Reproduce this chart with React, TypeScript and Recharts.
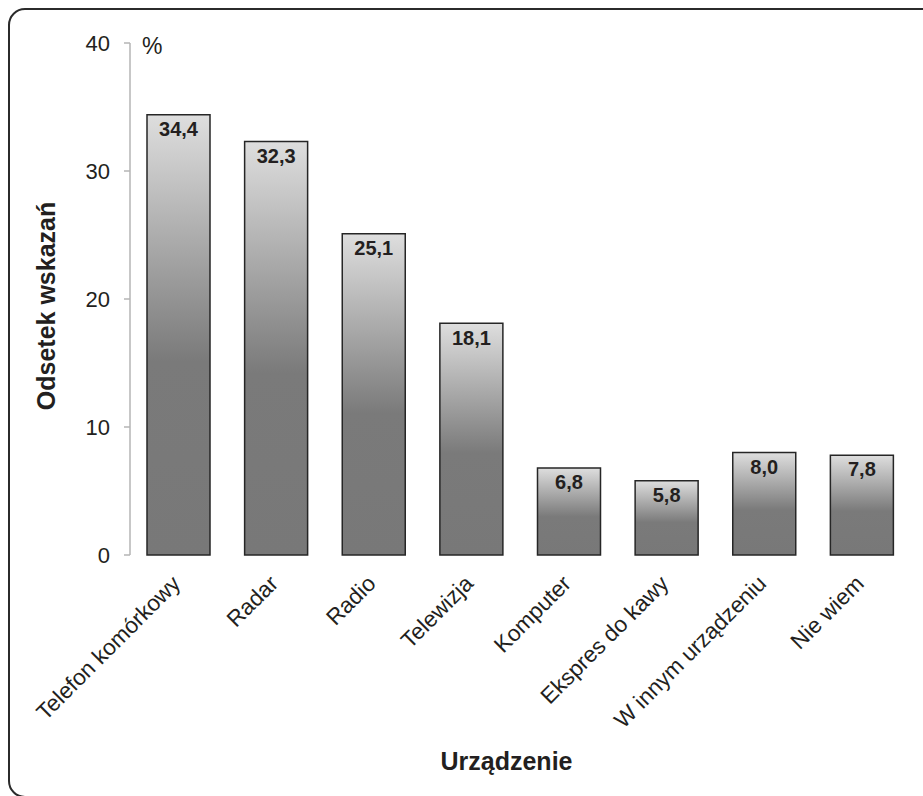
import React from 'react';
import { BarChart, Bar, XAxis, YAxis, LabelList } from 'recharts';

const categories = [
  'Telefon komórkowy',
  'Radar',
  'Radio',
  'Telewizja',
  'Komputer',
  'Ekspres do kawy',
  'W innym urządzeniu',
  'Nie wiem',
];
const values = [34.4, 32.3, 25.1, 18.1, 6.8, 5.8, 8.0, 7.8];
const yTicks = [0, 10, 20, 30, 40];
const boundaryTicks = [0, 1, 2, 3, 4, 5, 6, 7, 8];

const data = categories.map((name, i) => ({ name, value: values[i] }));

const FONT = '"Liberation Sans", Arial, Helvetica, sans-serif';
const TEXT = '#231f20';
const AXIS = '#b5b5b5';

const fmt = (v: any) => Number(v).toFixed(1).replace('.', ',');

const CatTick = (props: any) => {
  const { x, y, payload } = props;
  const ax = x + 3;
  return (
    <text
      x={ax}
      y={y}
      transform={`rotate(-45, ${ax}, ${y})`}
      textAnchor="end"
      fontFamily={FONT}
      fontSize={22.5}
      fill={TEXT}
    >
      {payload.value}
    </text>
  );
};

export default function App() {
  return (
    <div style={{ position: 'absolute', left: 0, top: 0, width: 923, height: 796, overflow: 'hidden', background: '#fff' }}>
      <svg
        width={923}
        height={796}
        style={{ position: 'absolute', left: 0, top: 0, overflow: 'hidden', pointerEvents: 'none' }}
      >
        <rect x={9} y={9} width={960} height={788} rx={16} ry={16} fill="none" stroke="#2b2b2b" strokeWidth={2} />
      </svg>
      <div style={{ position: 'absolute', left: 0, top: 0 }}>
        <BarChart
          width={923}
          height={796}
          data={data}
          margin={{ top: 43, right: 12, left: 0, bottom: 0 }}
          barSize={63}
        >
          <defs>
            <linearGradient id="barGrad" x1="0" y1="0" x2="0" y2="1">
              <stop offset="0%" stopColor="#dedede" />
              <stop offset="56%" stopColor="#7a7a7a" />
              <stop offset="100%" stopColor="#787878" />
            </linearGradient>
          </defs>
          <XAxis
            xAxisId="grid"
            type="number"
            domain={[0, 8]}
            ticks={boundaryTicks}
            tick={false}
            height={0}
            axisLine={{ stroke: AXIS, strokeWidth: 1.5 }}
            tickLine={{ stroke: AXIS, strokeWidth: 1.5 }}
            tickSize={6}
            allowDataOverflow
          />
          <XAxis
            xAxisId="cat"
            dataKey="name"
            height={241}
            axisLine={false}
            tickLine={false}
            tickSize={0}
            tickMargin={30}
            interval={0}
            tick={<CatTick />}
            label={{
              content: (p: any) => {
                const vb = p.viewBox;
                return (
                  <text
                    x={vb.x + vb.width / 2 - 14}
                    y={vb.y + 215}
                    textAnchor="middle"
                    fontFamily={FONT}
                    fontSize={25}
                    fontWeight="bold"
                    fill={TEXT}
                  >
                    Urządzenie
                  </text>
                );
              },
            }}
          />
          <YAxis
            width={130}
            domain={[0, 40]}
            ticks={yTicks}
            interval={0}
            axisLine={{ stroke: AXIS, strokeWidth: 1.5 }}
            tickLine={{ stroke: AXIS, strokeWidth: 1.5 }}
            tickSize={6}
            tickMargin={14}
            tick={{ fontFamily: FONT, fontSize: 22, fill: TEXT }}
            label={{
              content: (p: any) => {
                const vb = p.viewBox;
                const cx = vb.x + 55;
                const cy = vb.y + vb.height / 2 + 7;
                return (
                  <g>
                    <text
                      x={cx}
                      y={cy}
                      transform={`rotate(-90, ${cx}, ${cy})`}
                      textAnchor="middle"
                      fontFamily={FONT}
                      fontSize={25}
                      fontWeight="bold"
                      fill={TEXT}
                    >
                      Odsetek wskazań
                    </text>
                    <text
                      x={vb.x + vb.width + 12}
                      y={vb.y + 11}
                      fontFamily={FONT}
                      fontSize={23}
                      fill={TEXT}
                    >
                      %
                    </text>
                  </g>
                );
              },
            }}
          />
          <Bar
            xAxisId="cat"
            dataKey="value"
            fill="url(#barGrad)"
            stroke="#262626"
            strokeWidth={1.5}
            isAnimationActive={false}
          >
            <LabelList
              dataKey="value"
              position="insideTop"
              offset={7}
              formatter={fmt}
              fontFamily={FONT}
              fontSize={20}
              fontWeight="bold"
              fill={TEXT}
            />
          </Bar>
        </BarChart>
      </div>
    </div>
  );
}
